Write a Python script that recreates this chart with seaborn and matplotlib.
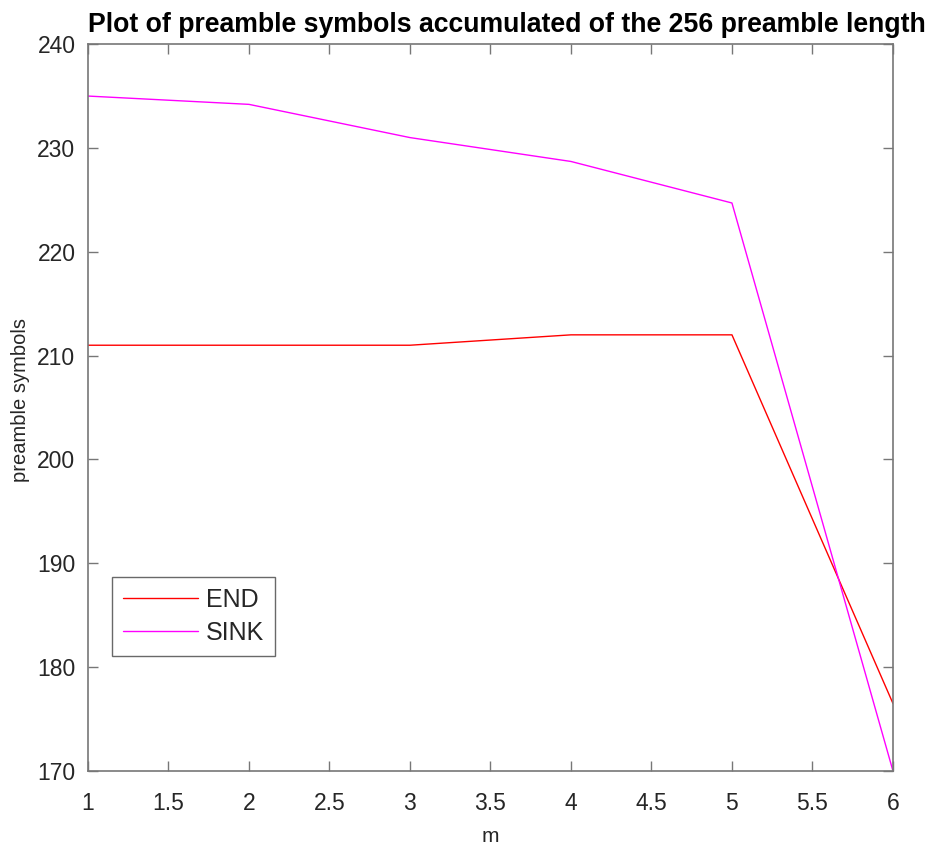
import matplotlib
matplotlib.use("Agg")
import matplotlib.pyplot as plt
import seaborn as sns
import pandas as pd

# Accumulated preamble symbols versus m (256-symbol preamble)
m_values = [1, 2, 3, 4, 5, 6]
end_symbols = [211, 211, 211, 212, 212, 176.5]
sink_symbols = [235, 234.2, 231, 228.7, 224.7, 170]
series_names = ["END", "SINK"]
series_colors = ["#ff0000", "#ff00ff"]
x_ticks = [1, 1.5, 2, 2.5, 3, 3.5, 4, 4.5, 5, 5.5, 6]
y_ticks = [170, 180, 190, 200, 210, 220, 230, 240]

df = pd.DataFrame({
    "m": m_values * 2,
    "preamble symbols": end_symbols + sink_symbols,
    "node": [series_names[0]] * len(m_values) + [series_names[1]] * len(m_values),
})

sns.set_style("white")
plt.rcParams["font.family"] = ["Liberation Sans", "DejaVu Sans"]

fig = plt.figure(figsize=(9.36, 8.49), dpi=100)
ax = fig.add_axes([0.094, 0.092, 0.860, 0.856])

sns.lineplot(data=df, x="m", y="preamble symbols", hue="node",
             palette=dict(zip(series_names, series_colors)),
             linewidth=1.0, ax=ax)

ax.set_xlim(1, 6)
ax.set_ylim(170, 240)
ax.set_xticks(x_ticks)
ax.set_xticklabels([f"{t:g}" for t in x_ticks])
ax.set_yticks(y_ticks)

grey = "#777777"
for s in ax.spines.values():
    s.set_visible(True)
    s.set_color(grey)
    s.set_linewidth(1.2)
ax.tick_params(axis="both", which="both", direction="in", length=7, width=1.0,
               color=grey, labelsize=16.5, labelcolor="#262626",
               top=True, right=True, bottom=True, left=True)
ax.tick_params(axis="x", pad=15)
ax.tick_params(axis="y", pad=9)

ax.set_xlabel("m", fontsize=15, color="#262626", labelpad=9)
ax.set_ylabel("preamble symbols", fontsize=14.5, color="#262626", labelpad=5)
ax.yaxis.set_label_coords(-0.072, 0.51)
fig.text(0.541, 1 - 32 / 849,
         "Plot of preamble symbols accumulated of the 256 preamble length",
         ha="center", va="baseline", fontsize=19.2, fontweight="bold", color="black")

leg = ax.legend(loc="lower left", bbox_to_anchor=(0.03, 0.158), borderaxespad=0,
                fontsize=18, frameon=True, fancybox=False, handlelength=3.0,
                handletextpad=0.3, labelspacing=0.35, borderpad=0.45)
leg.get_frame().set_edgecolor("#444444")
leg.get_frame().set_linewidth(1.0)

fig.savefig("out.png", dpi=100, facecolor="white")
